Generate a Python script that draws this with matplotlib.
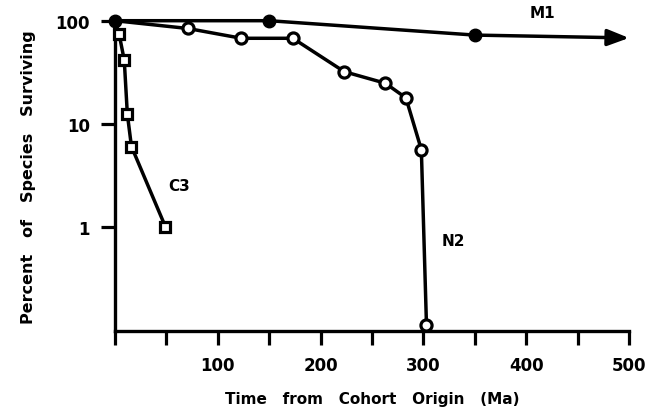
import numpy as np
import matplotlib.pyplot as plt

# valori (Ma, % specie sopravvissute)
m1_x = [0, 150, 350]
m1_y = [100, 100, 72.5]
m1_arrow = (500, 68)

n2_x = [0, 71, 123, 173, 223, 263, 283, 298, 303]
n2_y = [100, 84, 67.5, 67.5, 32, 24.7, 17.8, 5.6, 0.11]

c3_x = [0, 4, 9, 12, 16, 49]
c3_y = [100, 74, 41.5, 12.4, 6.0, 1.0]

xticks = [0, 50, 100, 150, 200, 250, 300, 350, 400, 450, 500]
xlabels = ['', '', '100', '', '200', '', '300', '', '400', '', '500']
yticks = [1, 10, 100]
ylabels = ['1', '10', '100']

plt.rcParams['font.family'] = 'DejaVu Sans'
plt.rcParams['font.weight'] = 'bold'

fig = plt.figure(figsize=(6.64, 4.14), dpi=100)
ax = fig.add_axes([115/664, 1-332/414, (629-115)/664, (332-21.7)/414])

lw = 2.5
# N2
ax.plot(n2_x, n2_y, color='black', lw=lw, marker='o', ms=8,
        mfc='white', mec='black', mew=2.3, markevery=slice(1, None),
        clip_on=False, zorder=3)
# C3
ax.plot(c3_x, c3_y, color='black', lw=lw, marker='s', ms=7,
        mfc='white', mec='black', mew=2.3, markevery=slice(1, None),
        clip_on=False, zorder=4)
# M1
ax.plot(m1_x, m1_y, color='black', lw=lw, marker='o', ms=9,
        mfc='black', mec='black', clip_on=False, zorder=5)
ax.annotate('', xy=m1_arrow, xytext=(m1_x[-1], m1_y[-1]),
            arrowprops=dict(arrowstyle='-|>,head_length=1.3,head_width=0.5',
                            color='black', lw=lw, shrinkA=0, shrinkB=0),
            annotation_clip=False)

ax.set_yscale('log')
ax.set_xlim(0, 500)
ax.set_ylim(0.097, 100)
ax.set_xticks(xticks)
ax.set_xticklabels(xlabels)
ax.set_yticks(yticks)
ax.set_yticklabels(ylabels)
ax.yaxis.set_minor_locator(plt.NullLocator())

for s in ['top', 'right']:
    ax.spines[s].set_visible(False)
for s in ['left', 'bottom']:
    ax.spines[s].set_linewidth(2.4)
ax.tick_params(axis='both', direction='out', length=10, width=2.3,
               labelsize=12)
ax.tick_params(axis='x', pad=8)
ax.tick_params(axis='y', pad=8)

ax.set_xlabel('Time   from   Cohort   Origin   (Ma)', fontsize=11,
              fontweight='bold', labelpad=12)
ax.set_ylabel('Percent   of   Species   Surviving', fontsize=11.5,
              fontweight='bold', labelpad=14)

ax.text(416, 120, 'M1', fontsize=11, fontweight='bold', ha='center', va='center', clip_on=False)
ax.text(62, 2.5, 'C3', fontsize=11, fontweight='bold', ha='center', va='center')
ax.text(318, 0.73, 'N2', fontsize=11, fontweight='bold', ha='left', va='center')

fig.savefig('out.png', dpi=100)
